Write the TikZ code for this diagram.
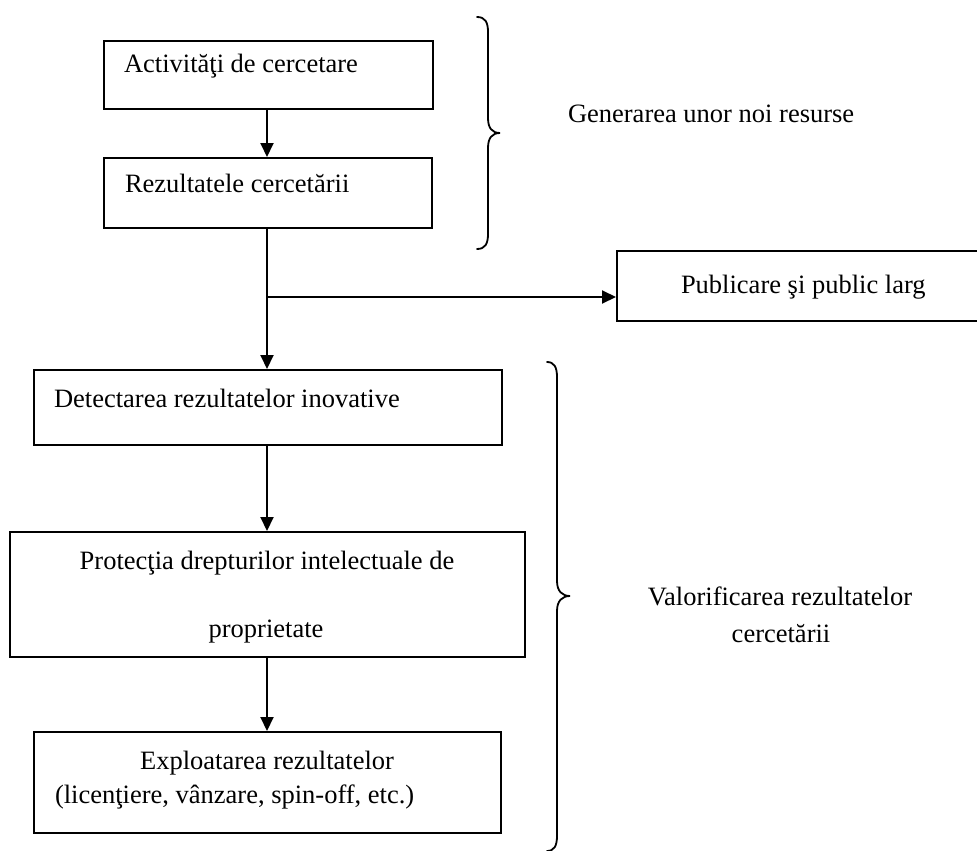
\documentclass[tikz,border=0pt]{standalone}
\usepackage{fontspec}
\setmainfont{Liberation Serif}
\usetikzlibrary{arrows.meta}

\begin{document}
\begin{tikzpicture}[x=1pt,y=-1pt,
  line width=2pt,
  stepbox/.style={draw, rectangle, inner sep=0pt, anchor=north west},
  lbl/.style={inner sep=0pt, font=\fontsize{26.5}{30}\selectfont},
  flow/.style={-{Triangle[length=14pt,width=13pt]}},
  brace/.style={line width=1.8pt, line cap=round}]
  \useasboundingbox (0,0) rectangle (977,851);

  % boxes
  \node[stepbox, minimum width=329pt, minimum height=68pt]  (b1)  at (103,40)  {};
  \node[stepbox, minimum width=328pt, minimum height=70pt]  (b2)  at (103,157) {};
  \node[stepbox, minimum width=362pt, minimum height=70pt]  (pub) at (616,250) {};
  \node[stepbox, minimum width=468pt, minimum height=75pt]  (b3)  at (33,369)  {};
  \node[stepbox, minimum width=515pt, minimum height=125pt] (b4)  at (9,531)   {};
  \node[stepbox, minimum width=467pt, minimum height=101pt] (b5)  at (33,731)  {};

  % box texts
  \node[lbl, anchor=base west] (t1)   at (123,73)  {Activităţi de cercetare};
  \node[lbl, anchor=base west] (t2)   at (124,192) {Rezultatele cercetării};
  \node[lbl, anchor=base west] (tpub) at (680,293) {Publicare şi public larg};
  \node[lbl, anchor=base west] (t3)   at (53,407)  {Detectarea rezultatelor inovative};
  \node[lbl, anchor=base] (t4a) at (267,569) {Protecţia drepturilor intelectuale de};
  \node[lbl, anchor=base] (t4b) at (266,637) {proprietate};
  \node[lbl, anchor=base] (t5a) at (267,769) {Exploatarea rezultatelor};
  \node[lbl, anchor=base west] (t5b) at (54,803) {(licenţiere, vânzare, spin-off, etc.)};

  % side labels
  \node[lbl, anchor=base west] (gen) at (567,122) {Generarea unor noi resurse};
  \node[lbl, anchor=base] (val1) at (780,605) {Valorificarea rezultatelor};
  \node[lbl, anchor=base] (val2) at (781,642) {cercetării};

  % connectors
  \coordinate (br) at (267,297);
  \draw[flow] (b1.south -| br) -- (b2.north -| br);
  \draw (b2.south -| br) -- (br);
  \draw[flow] (br) -- (b3.north -| br);
  \draw[flow] (br) -- (br -| pub.west);
  \draw[flow] (b3.south -| br) -- (b4.north -| br);
  \draw[flow] (b4.south -| br) -- (b5.north -| br);

  % braces
  \draw[brace] (477,17) .. controls (485,17) and (488,22) .. (488,32)
    -- (488,118) .. controls (488,128) and (492,133) .. (500,133)
    .. controls (492,133) and (488,138) .. (488,148)
    -- (488,234) .. controls (488,244) and (485,249) .. (477,249);
  \draw[brace] (547,362) .. controls (554,362) and (557,367) .. (557,377)
    -- (557,581) .. controls (557,591) and (562,596) .. (570,596)
    .. controls (562,596) and (557,601) .. (557,611)
    -- (557,836) .. controls (557,846) and (554,851) .. (547,851);
\end{tikzpicture}
\end{document}
